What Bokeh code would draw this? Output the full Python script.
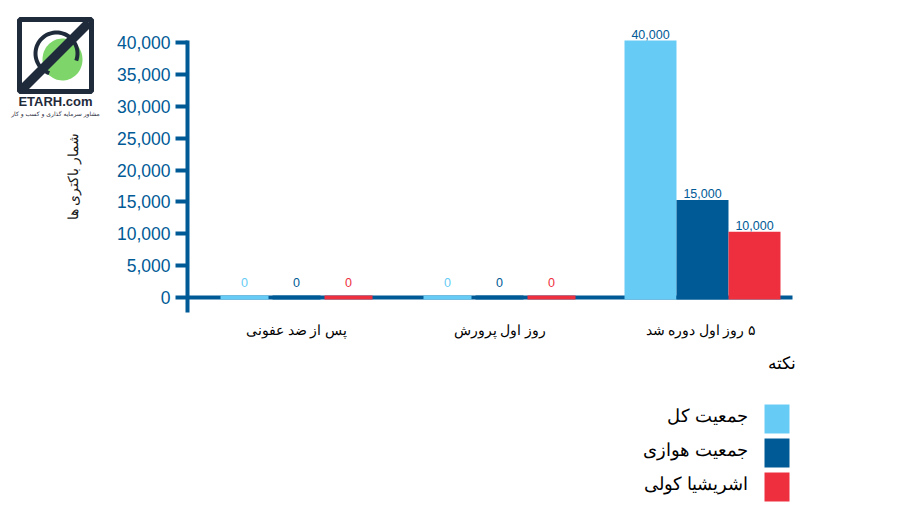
import numpy as np
from bokeh.plotting import figure
from bokeh.models import (ColumnDataSource, FixedTicker, NumeralTickFormatter,
                          Label, LabelSet, BoxAnnotation, PolyAnnotation, Range1d)
from bokeh.embed import file_html
from bokeh.resources import INLINE
from bokeh.core.properties import value

# ---------------- data ----------------
categories = ["پس از ضد عفونی", "روز اول پرورش", "\u200f۵ روز اول  دوره شد"]
series_names = ["جمعیت کل", "جمعیت هوازی", "اشریشیا کولی"]
total_population = [0, 0, 40000]
aerobic_population = [0, 0, 15000]
ecoli_population = [0, 0, 10000]
y_ticks = [0, 5000, 10000, 15000, 20000, 25000, 30000, 35000, 40000]
y_label = "شمار باکتری ها"
legend_title = "نکته"
logo_name = "ETARH.com"
logo_tagline = "مشاور سرمایه گذاری و کسب و کار"

# ---------------- style / layout (page pixels) ----------------
COLORS = ["#66CCF5", "#005A96", "#EE2F3E"]
DARK = "#005A96"
NAVY = "#1F2B3B"
W, H = 884, 503
AXIS_X_PX, AXIS_R_PX = 187, 792          # y-axis position / baseline right end
AXIS_BOTTOM_PX, AXIS_TOP_PX = 312, 40    # extent of the y-axis line
PX_PER_CAT = 203.0
X0_PX = 296.0                             # centre of first category
Y0_PX, Y40_PX = 297.0, 42.0               # rows of 0 and 40,000
PITCH = 52.0 / PX_PER_CAT
BAR_W = 48.0 / PX_PER_CAT
ppu = (Y0_PX - Y40_PX) / 40000.0          # pixels per unit


def dx(px):
    return (px - X0_PX) / PX_PER_CAT


def dy(py):
    return (Y0_PX - py) / ppu


def sx(px):
    return px


def sy(py):
    return H - py


series_values = [total_population, aerobic_population, ecoli_population]
xs, tops, cols, labels, lcols, yoffs = [], [], [], [], [], []
for i, vals in enumerate(series_values):
    for j, v in enumerate(vals):
        xs.append(j + (i - 1) * PITCH)
        tops.append(v)
        cols.append(COLORS[i])
        labels.append(f"{v:,}")
        lcols.append(COLORS[i] if v == 0 else DARK)
        yoffs.append(11 if v == 0 else 4)
src = ColumnDataSource(dict(x=xs, top=tops, color=cols, label=labels,
                            lcolor=lcols, yoff=yoffs))

p = figure(width=W, height=H, output_backend="svg", toolbar_location=None,
           x_range=Range1d(dx(0), dx(W)), y_range=Range1d(dy(H), dy(0)),
           min_border_left=0, min_border_right=0, min_border_top=0,
           min_border_bottom=0)
p.outline_line_color = None
p.grid.visible = False

p.vbar(x="x", top="top", bottom=0, width=BAR_W, fill_color="color",
       line_color="color", line_width=4, line_join="miter", source=src)

p.add_layout(LabelSet(x="x", y="top", text="label", text_color="lcolor",
                      text_align="center", text_baseline="bottom", y_offset="yoff",
                      text_font=value("Liberation Sans"), text_font_size="12.5px",
                      source=src))

# y axis (fixed at its page position, line limited to its extent)
ya = p.yaxis[0]
ya.fixed_location = dx(AXIS_X_PX)
ya.bounds = (dy(AXIS_BOTTOM_PX), dy(AXIS_TOP_PX))
ya.ticker = FixedTicker(ticks=y_ticks)
ya.formatter = NumeralTickFormatter(format="0,0")
ya.axis_line_color = DARK
ya.axis_line_width = 4
ya.major_tick_line_color = DARK
ya.major_tick_line_width = 4
ya.major_tick_out = 12
ya.major_tick_in = 0
ya.minor_tick_line_color = None
ya.major_label_text_color = DARK
ya.major_label_text_font = "Liberation Sans"
ya.major_label_text_font_size = "17.5px"
ya.major_label_standoff = 5
ya.axis_label = y_label
ya.axis_label_text_font = "Liberation Serif"
ya.axis_label_text_font_style = "normal"
ya.axis_label_text_font_size = "14px"
ya.axis_label_text_color = "#1a1a1a"
ya.axis_label_standoff = 33

# x axis: its line is the zero baseline, drawn beneath the bars
xa = p.xaxis[0]
xa.fixed_location = 0
xa.bounds = (dx(AXIS_X_PX), dx(AXIS_R_PX))
xa.level = "underlay"
xa.ticker = FixedTicker(ticks=list(range(len(categories))))
xa.major_label_overrides = {i: c for i, c in enumerate(categories)}
xa.axis_line_color = DARK
xa.axis_line_width = 4
xa.major_tick_line_color = None
xa.minor_tick_line_color = None
xa.major_label_text_color = "black"
xa.major_label_text_font = "Liberation Serif"
xa.major_label_text_font_size = "14px"
xa.major_label_standoff = 19

# ---------------- logo watermark ----------------
t = np.linspace(0, 2 * np.pi, 72)
p.add_layout(PolyAnnotation(xs=list(sx(62 + 20 * np.cos(t))), ys=list(sy(59 + 21 * np.sin(t))),
                            xs_units="screen", ys_units="screen",
                            fill_color="#7ED66B", fill_alpha=1, line_color=None))
a = np.linspace(np.radians(-20), np.radians(250), 60)       # C-shaped ring
ring_x = np.concatenate([56 + 23 * np.cos(a), (56 + 19 * np.cos(a))[::-1]])
ring_y = np.concatenate([53 + 23 * np.sin(-a), (53 + 19 * np.sin(-a))[::-1]])
p.add_layout(PolyAnnotation(xs=list(sx(ring_x)), ys=list(sy(ring_y)),
                            xs_units="screen", ys_units="screen",
                            fill_color=NAVY, fill_alpha=1, line_color=None))
p.add_layout(BoxAnnotation(left=sx(19), right=sx(91), top=sy(19), bottom=sy(91),
                           left_units="screen", right_units="screen",
                           top_units="screen", bottom_units="screen",
                           fill_color=None, line_color=NAVY, line_alpha=1,
                           line_width=5))
p.add_layout(PolyAnnotation(xs=[sx(17), sx(24), sx(92), sx(85)],
                            ys=[sy(87), sy(93), sy(25), sy(19)],
                            xs_units="screen", ys_units="screen",
                            fill_color=NAVY, fill_alpha=1, line_color=None))
p.add_layout(Label(x=sx(55), y=sy(101), x_units="screen", y_units="screen",
                   text=logo_name, text_align="center", text_baseline="middle",
                   text_font="Liberation Sans", text_font_style="bold",
                   text_font_size="13px", text_color=NAVY))
p.add_layout(Label(x=sx(55), y=sy(113), x_units="screen", y_units="screen",
                   text=logo_tagline, text_align="center", text_baseline="middle",
                   text_font="DejaVu Sans", text_font_size="6px",
                   text_color=NAVY))

# ---------------- legend (right-to-left) ----------------
p.add_layout(Label(x=sx(795), y=sy(363), x_units="screen", y_units="screen",
                   text=legend_title, text_align="right", text_baseline="middle",
                   text_font="Liberation Serif", text_font_size="17px",
                   text_color="black"))
SW_L, SW_R, SW_TOP, SW_H, SW_STEP = 764, 789, 404, 29, 34
for k, name in enumerate(series_names):
    top_px = SW_TOP + k * SW_STEP
    p.add_layout(BoxAnnotation(left=sx(SW_L), right=sx(SW_R), top=sy(top_px),
                               bottom=sy(top_px + SW_H),
                               left_units="screen", right_units="screen",
                               top_units="screen", bottom_units="screen",
                               fill_color=COLORS[k], fill_alpha=1, line_color=None))
    p.add_layout(Label(x=sx(747), y=sy(top_px + SW_H / 2 - 3), x_units="screen",
                       y_units="screen", text=name, text_align="right",
                       text_baseline="middle", text_font="Liberation Serif",
                       text_font_size="18px", text_color="black"))

open("out.html", "w").write(file_html(p, INLINE))
